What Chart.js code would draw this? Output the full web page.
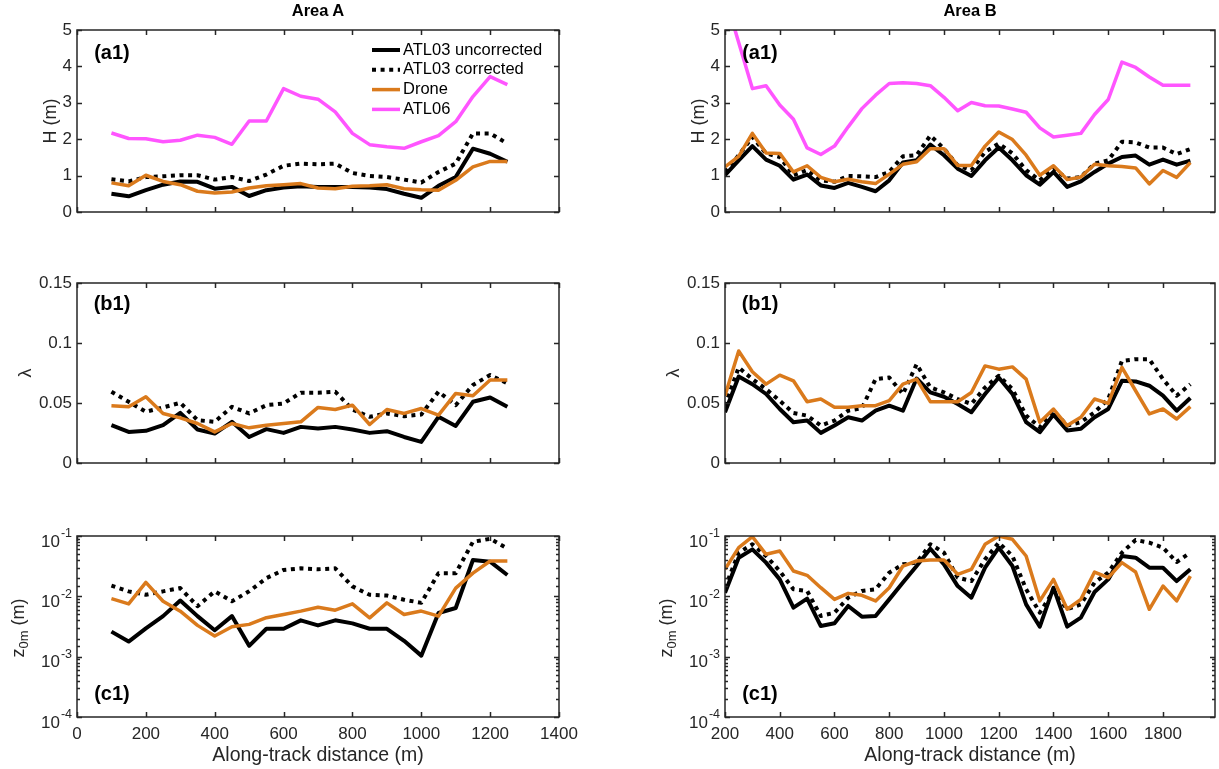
<!DOCTYPE html>
<html>
<head>
<meta charset="utf-8">
<script src="https://cdn.jsdelivr.net/npm/chart.js@4.4.1/dist/chart.umd.min.js"></script>
<style>
  body { margin: 0; background: #fff; width: 1219px; height: 769px; overflow: hidden; position: relative;
         font-family: "Liberation Sans", Arial, sans-serif; color: #262626; }
  canvas { position: absolute; }
  .t { position: absolute; white-space: nowrap; transform: translate(-50%, -50%); line-height: 1; }
  .rot { transform: translate(-50%, -50%) rotate(-90deg); }
  .b { font-weight: bold; color: #000; }
  sub { font-size: 0.72em; vertical-align: -0.25em; }
</style>
</head>
<body>
<script>
// along-track distance (m)
const distA = [100,150,200,250,300,350,400,450,500,550,600,650,700,750,800,850,900,950,1000,1050,1100,1150,1200,1250];
const distB = [200,250,300,350,400,450,500,550,600,650,700,750,800,850,900,950,1000,1050,1100,1150,
               1200,1250,1300,1350,1400,1450,1500,1550,1600,1650,1700,1750,1800,1850,1900];

// Area A
const hA_unc   = [0.50,0.43,0.60,0.75,0.84,0.83,0.64,0.69,0.44,0.60,0.67,0.71,0.69,0.69,0.69,0.67,0.63,0.50,0.39,0.72,0.96,1.74,1.60,1.38];
const hA_cor   = [0.90,0.84,0.96,0.98,1.01,1.01,0.89,0.96,0.85,1.03,1.27,1.33,1.31,1.33,1.07,0.99,0.96,0.89,0.81,1.10,1.33,2.16,2.16,1.88];
const hA_drone = [0.80,0.72,1.01,0.84,0.75,0.57,0.52,0.55,0.66,0.72,0.75,0.78,0.66,0.64,0.71,0.72,0.75,0.64,0.61,0.60,0.87,1.24,1.39,1.39];
const hA_atl06 = [2.17,2.02,2.01,1.93,1.97,2.11,2.05,1.86,2.50,2.50,3.39,3.18,3.10,2.75,2.16,1.85,1.79,1.75,1.93,2.10,2.48,3.17,3.72,3.50];

const lamA_unc   = [0.0315,0.0259,0.0268,0.0315,0.0418,0.0279,0.0245,0.0343,0.0217,0.0282,0.0251,0.0301,0.0287,0.0301,0.0279,0.0251,0.0265,0.0217,0.0176,0.0385,0.0309,0.0510,0.0546,0.0468];
const lamA_cor   = [0.0594,0.0510,0.0427,0.0463,0.0502,0.0357,0.0343,0.0468,0.0413,0.0482,0.0496,0.0586,0.0586,0.0594,0.0446,0.0385,0.0413,0.0390,0.0404,0.0594,0.0482,0.0650,0.0733,0.0664];
const lamA_drone = [0.0477,0.0468,0.0552,0.0413,0.0376,0.0329,0.0259,0.0329,0.0293,0.0315,0.0329,0.0343,0.0463,0.0446,0.0482,0.0321,0.0446,0.0413,0.0454,0.0399,0.0580,0.0560,0.0691,0.0691];

const zA_unc   = [0.0026,0.00178,0.00295,0.0047,0.0085,0.0047,0.00274,0.0047,0.00151,0.0029,0.0029,0.0040,0.0033,0.0040,0.00356,0.0029,0.0029,0.00183,0.00104,0.0053,0.0064,0.040,0.0375,0.0226];
const zA_cor   = [0.0151,0.0121,0.0106,0.0121,0.0137,0.00686,0.0121,0.00828,0.0121,0.020,0.0274,0.0291,0.0281,0.0291,0.0146,0.0106,0.0103,0.0088,0.0078,0.0242,0.0242,0.080,0.090,0.062];
const zA_drone = [0.00916,0.00749,0.0170,0.0083,0.00568,0.0033,0.0022,0.00314,0.00343,0.00442,0.0050,0.00568,0.0066,0.0059,0.0075,0.0044,0.0078,0.0050,0.0057,0.0047,0.0137,0.0242,0.0385,0.0385];

// Area B
const hB_unc   = [1.01,1.42,1.81,1.44,1.27,0.89,1.03,0.73,0.66,0.80,0.69,0.57,0.87,1.36,1.42,1.85,1.56,1.19,0.99,1.42,
                  1.77,1.42,1.01,0.75,1.10,0.69,0.84,1.10,1.33,1.51,1.55,1.30,1.44,1.30,1.41];
const hB_cor   = [1.10,1.56,2.06,1.61,1.51,1.01,1.15,0.87,0.83,0.99,0.98,0.96,1.10,1.53,1.56,2.10,1.74,1.28,1.15,1.65,
                  1.88,1.61,1.15,0.87,1.19,0.92,0.96,1.33,1.42,1.93,1.91,1.77,1.77,1.59,1.73];
const hB_drone = [1.24,1.53,2.16,1.62,1.61,1.10,1.27,0.95,0.83,0.90,0.83,0.78,1.04,1.31,1.38,1.74,1.74,1.28,1.28,1.81,
                  2.20,1.99,1.56,1.01,1.27,0.89,0.96,1.31,1.27,1.25,1.21,0.77,1.14,0.95,1.36];
const hB_atl06 = [5.92,4.66,3.39,3.47,2.94,2.55,1.76,1.58,1.81,2.34,2.84,3.21,3.53,3.55,3.53,3.47,3.15,2.78,3.01,2.92,
                  2.91,2.83,2.74,2.31,2.06,2.11,2.16,2.68,3.09,4.12,3.97,3.71,3.48,3.48,3.48];

const lamB_unc   = [0.0423,0.0721,0.0657,0.0575,0.0450,0.0340,0.0354,0.0251,0.0312,0.0381,0.0354,0.0436,0.0478,0.0436,0.0704,0.0588,0.0552,0.0492,0.0423,0.0575,
                    0.0713,0.0575,0.0340,0.0257,0.0403,0.0271,0.0285,0.0381,0.0450,0.0685,0.0680,0.0644,0.0561,0.0436,0.0541];
const lamB_cor   = [0.0478,0.0796,0.0699,0.0616,0.0519,0.0417,0.0395,0.0312,0.0354,0.0436,0.0456,0.0699,0.0713,0.0575,0.0823,0.0630,0.0588,0.0533,0.0492,0.0630,
                    0.0727,0.0616,0.0395,0.0298,0.0436,0.0312,0.0340,0.0423,0.0533,0.0851,0.0865,0.0865,0.0699,0.0561,0.0657];
const lamB_drone = [0.0561,0.0934,0.0760,0.0657,0.0732,0.0685,0.0511,0.0533,0.0464,0.0464,0.0478,0.0478,0.0519,0.0657,0.0699,0.0511,0.0511,0.0511,0.0588,0.0809,
                    0.0782,0.0801,0.0699,0.0340,0.0450,0.0312,0.0381,0.0533,0.0497,0.0796,0.0602,0.0409,0.0450,0.0367,0.0470];

const zB_unc   = [0.0115,0.0437,0.0601,0.0362,0.0191,0.00649,0.00914,0.00322,0.00357,0.00692,0.00460,0.00472,0.0089,0.0169,0.0318,0.0616,0.0339,0.0148,0.0095,0.0298,
                  0.0641,0.0318,0.00736,0.00314,0.0139,0.00314,0.00443,0.0118,0.0191,0.0466,0.0437,0.0298,0.0298,0.0179,0.0280];
const zB_cor   = [0.0139,0.0529,0.0728,0.0466,0.0263,0.0131,0.0123,0.00472,0.00536,0.0095,0.0123,0.0131,0.0247,0.0339,0.0362,0.0728,0.0529,0.0204,0.0179,0.0410,
                  0.0776,0.0466,0.0131,0.00536,0.0123,0.0061,0.00736,0.0169,0.0247,0.0529,0.0859,0.0776,0.0641,0.0371,0.0529];
const zB_drone = [0.0280,0.0641,0.0975,0.0497,0.0564,0.0263,0.0223,0.0139,0.0089,0.0112,0.0104,0.0084,0.0139,0.0318,0.0385,0.0400,0.0400,0.0232,0.0280,0.0728,
                  0.100,0.0881,0.0466,0.0084,0.0191,0.0061,0.0089,0.0253,0.0204,0.0362,0.0253,0.0061,0.0148,0.0084,0.0217];

// tick labels
const xTicksA = [0,200,400,600,800,1000,1200,1400];
const xTicksB = [200,400,600,800,1000,1200,1400,1600,1800];
const hTicks = [0,1,2,3,4,5];
const lamTicks = [0,0.05,0.1,0.15];

const seriesNames = ['ATL03 uncorrected','ATL03 corrected','Drone','ATL06'];

// ---- styles / layout ----
const STYLE = [
  {borderColor:'#000000', borderWidth:4, order:4},
  {borderColor:'#000000', borderWidth:4, order:3, borderDash:[4,4.6]},
  {borderColor:'#DA7A1C', borderWidth:3.5, order:2},
  {borderColor:'#FF55FF', borderWidth:3.5, order:1},
];
const COLS = [{left:77, right:559, min:0, max:1400, ticks:xTicksA, dist:distA},
              {left:725, right:1215, min:200, max:1990, ticks:xTicksB, dist:distB}];
const ROWS = [{top:30, bottom:212}, {top:283, bottom:463}, {top:536, bottom:717}];
const AXC = '#262626';
const FONT = '"Liberation Sans", Arial, sans-serif';

// box, inward ticks and log labels
const framePlugin = {
  id: 'frame',
  afterDatasetsDraw(chart) {
    const {ctx, chartArea: a, scales: {x, y}} = chart;
    const isLog = y.type === 'logarithmic';
    ctx.save();
    ctx.strokeStyle = AXC;
    ctx.lineWidth = 1.5;
    ctx.beginPath();
    x.ticks.forEach(t => {
      const p = Math.round(x.getPixelForValue(t.value)) + 0.5;
      ctx.moveTo(p, a.bottom); ctx.lineTo(p, a.bottom - 5);
      ctx.moveTo(p, a.top); ctx.lineTo(p, a.top + 5);
    });
    y.ticks.forEach(t => {
      const p = Math.round(y.getPixelForValue(t.value)) + 0.5;
      let len = 5;
      if (isLog) {
        const e = Math.log10(t.value);
        if (Math.abs(e - Math.round(e)) > 1e-6) len = 3;
      }
      ctx.moveTo(a.left, p); ctx.lineTo(a.left + len, p);
      ctx.moveTo(a.right, p); ctx.lineTo(a.right - len, p);
    });
    ctx.stroke();
    ctx.strokeRect(a.left, a.top, a.right - a.left, a.bottom - a.top);

    if (isLog) {
      ctx.fillStyle = AXC;
      y.ticks.forEach(t => {
        const e = Math.round(Math.log10(t.value));
        if (Math.abs(Math.log10(t.value) - e) > 1e-6) return;
        const p = y.getPixelForValue(t.value);
        const exp = String(e);
        ctx.textBaseline = 'middle';
        ctx.textAlign = 'right';
        ctx.font = '12.5px ' + FONT;
        const ew = ctx.measureText(exp).width;
        ctx.fillText(exp, a.left - 5, p - 2);
        ctx.font = '17px ' + FONT;
        ctx.fillText('10', a.left - 6 - ew, p + 6);
      });
    }
    ctx.restore();
  }
};

const legendPlugin = {
  id: 'inlegend',
  afterDatasetsDraw(chart, args, opts) {
    if (!opts.show) return;
    const {ctx, chartArea: a} = chart;
    const ds = chart.data.datasets;
    const x0 = a.right - 187;
    ctx.save();
    ctx.font = '16.5px ' + FONT;
    ctx.fillStyle = '#000';
    ctx.textBaseline = 'middle';
    ctx.textAlign = 'left';
    ds.forEach((d, i) => {
      const yy = a.top + 20 + i * 19.8;
      ctx.beginPath();
      ctx.setLineDash(d.borderDash || []);
      ctx.lineWidth = d.borderWidth;
      ctx.strokeStyle = d.borderColor;
      ctx.moveTo(x0, yy); ctx.lineTo(x0 + 28, yy);
      ctx.stroke();
      ctx.setLineDash([]);
      ctx.fillText(d.label, x0 + 31, yy);
    });
    ctx.restore();
  }
};

function addText(html, x, y, cls, size) {
  const d = document.createElement('div');
  d.className = 't ' + (cls || '');
  d.style.left = x + 'px';
  d.style.top = y + 'px';
  d.style.fontSize = size + 'px';
  d.innerHTML = html;
  document.body.appendChild(d);
}

function makePanel(ci, ri, yCfg, series, legend) {
  const col = COLS[ci], row = ROWS[ri];
  const bottomRow = ri === 2;
  const padL = ci === 0 ? 77 : 80, padT = 20, padR = 30, padB = bottomRow ? 45 : 20;
  const canvas = document.createElement('canvas');
  const W = padL + (col.right - col.left) + padR;
  const H = padT + (row.bottom - row.top) + padB;
  canvas.width = W; canvas.height = H;
  canvas.style.left = (col.left - padL) + 'px';
  canvas.style.top = (row.top - padT) + 'px';
  document.body.appendChild(canvas);

  const datasets = series.map((vals, i) => Object.assign({
    label: seriesNames[i],
    data: col.dist.map((d, k) => ({x: d, y: vals[k]})),
    pointRadius: 0,
    borderJoinStyle: 'round',
    fill: false
  }, STYLE[i]));

  const yScale = {
    type: yCfg.type,
    min: yCfg.min, max: yCfg.max,
    grid: {display: false, drawTicks: false}, border: {display: false},
    afterFit: s => { s.width = padL; },
    ticks: {
      display: yCfg.type !== 'logarithmic',
      color: AXC, padding: 5,
      font: {family: FONT, size: 17},
      callback: v => String(+Number(v).toFixed(3))
    }
  };
  if (yCfg.ticks) yScale.afterBuildTicks = s => { s.ticks = yCfg.ticks.map(v => ({value: v})); };

  new Chart(canvas, {
    type: 'line',
    data: {datasets},
    options: {
      responsive: false,
      animation: false,
      layout: {padding: {top: padT, right: padR, left: 0, bottom: 0}},
      plugins: {legend: {display: false}, tooltip: {enabled: false}, inlegend: {show: !!legend}},
      scales: {
        x: {
          type: 'linear', min: col.min, max: col.max,
          grid: {display: false, drawTicks: false}, border: {display: false},
          afterBuildTicks: s => { s.ticks = col.ticks.map(v => ({value: v})); },
          afterFit: s => { s.height = padB; },
          ticks: {display: bottomRow, color: AXC, padding: 7, maxRotation: 0,
                  font: {family: FONT, size: 17}, callback: v => String(v)}
        },
        y: yScale
      }
    },
    plugins: [framePlugin, legendPlugin]
  });
}

const H_CFG = {type: 'linear', min: 0, max: 5, ticks: hTicks};
const L_CFG = {type: 'linear', min: 0, max: 0.15, ticks: lamTicks};
const Z_CFG = {type: 'logarithmic', min: 1e-4, max: 1e-1};

makePanel(0, 0, H_CFG, [hA_unc, hA_cor, hA_drone, hA_atl06], true);
makePanel(0, 1, L_CFG, [lamA_unc, lamA_cor, lamA_drone]);
makePanel(0, 2, Z_CFG, [zA_unc, zA_cor, zA_drone]);
makePanel(1, 0, H_CFG, [hB_unc, hB_cor, hB_drone, hB_atl06]);
makePanel(1, 1, L_CFG, [lamB_unc, lamB_cor, lamB_drone]);
makePanel(1, 2, Z_CFG, [zB_unc, zB_cor, zB_drone]);

// text
addText('Area A', 318, 10, 'b', 16.5);
addText('Area B', 970, 10, 'b', 16.5);
[0, 1].forEach(ci => {
  const c = COLS[ci];
  const mid = (c.left + c.right) / 2;
  addText('Along-track distance (m)', mid, 755, '', 19.5);
  addText('H (m)', c.left - 27, 121, 'rot', 18);
  addText('&lambda;', c.left - 52, 373, 'rot', 18);
  addText('z<sub>0m</sub> (m)', c.left - 57, 628, 'rot', 18);
  addText('(a1)', c.left + 35, 52, 'b', 20);
  addText('(b1)', c.left + 35, 303, 'b', 20);
  addText('(c1)', c.left + 35, 693, 'b', 20);
});
</script>
</body>
</html>
